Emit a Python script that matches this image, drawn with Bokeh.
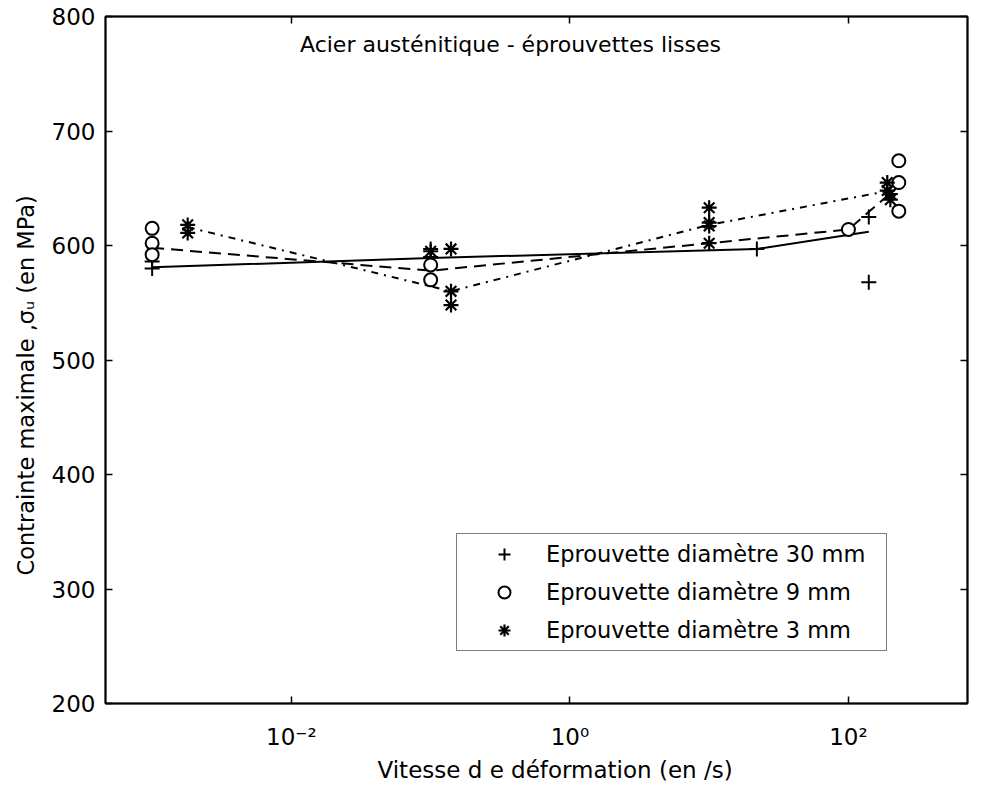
from bokeh.plotting import figure
from bokeh.models import (Range1d, FixedTicker, LogAxis, LinearAxis, Legend, LegendItem,
                          Label, Title, CustomJSTickFormatter)
from bokeh.embed import file_html
from bokeh.resources import INLINE

# ---------------- data ----------------
# Eprouvette diamètre 30 mm  (+)
d30_rate = [1e-3, 1e-3, 0.1, 0.1, 22, 140, 140]
d30_stress = [580, 586, 590, 597, 597, 625, 568]
d30_curve_rate = [1e-3, 0.1, 22, 140]
d30_curve_stress = [581, 589, 597, 612]

# Eprouvette diamètre 9 mm  (o)
d9_rate = [1e-3, 1e-3, 1e-3, 0.1, 0.1, 100, 230, 230, 230]
d9_stress = [615, 602, 592, 583, 570, 614, 674, 655, 630]
d9_curve_rate = [1e-3, 0.1, 100, 230]
d9_curve_stress = [598, 578, 614, 652]

# Eprouvette diamètre 3 mm  (*)
d3_rate = [1.8e-3, 1.8e-3, 0.1, 0.14, 0.14, 0.14, 10, 10, 10, 10, 190, 190, 200, 200]
d3_stress = [618, 611, 595, 597, 560, 548, 633, 620, 617, 602, 655, 648, 645, 640]
d3_curve_rate = [1.8e-3, 0.14, 10, 200]
d3_curve_stress = [616, 560, 618, 648]

x_ticks = [0.01, 1, 100]
x_tick_labels = ["10⁻²", "10⁰", "10²"]
y_ticks = [200, 300, 400, 500, 600, 700, 800]

series_labels = ["Eprouvette diamètre 30 mm", "Eprouvette diamètre 9 mm",
                 "Eprouvette diamètre 3 mm"]
title_text = "Acier austénitique - éprouvettes lisses"
x_label = "Vitesse d e déformation (en /s)"
y_label = "Contrainte maximale ,σᵤ  (en MPa)"

FONT = "DejaVu Sans"

# ---------------- figure ----------------
p = figure(width=972, height=784, x_axis_type="log",
           x_range=Range1d(10 ** -3.335, 10 ** 2.855), y_range=Range1d(200, 800),
           output_backend="svg", toolbar_location=None,
           min_border_left=102, min_border_right=5, min_border_top=16, min_border_bottom=80)
p.background_fill_color = "white"
p.border_fill_color = "white"
p.outline_line_color = "black"
p.outline_line_width = 1.5
p.grid.visible = False

xa = p.xaxis[0]
xa.ticker = FixedTicker(ticks=x_ticks, minor_ticks=[])
xa.major_label_overrides = dict(zip(x_ticks, x_tick_labels))

ya = p.yaxis[0]
ya.ticker = FixedTicker(ticks=y_ticks, minor_ticks=[])

for ax in (xa, ya):
    ax.axis_line_color = "black"
    ax.axis_line_width = 2
    ax.major_tick_in = 7
    ax.major_tick_out = 0
    ax.major_tick_line_width = 1.5
    ax.minor_tick_in = 0
    ax.minor_tick_out = 0
    ax.major_label_text_font = FONT
    ax.major_label_text_font_size = "23px"
    ax.major_label_text_color = "black"

xa.major_label_standoff = 20
ya.major_label_standoff = 10

empty = CustomJSTickFormatter(code="return ''")
top = LogAxis(ticker=FixedTicker(ticks=x_ticks, minor_ticks=[]), formatter=empty,
              major_tick_in=7, major_tick_out=0, minor_tick_in=0, minor_tick_out=0,
              major_label_standoff=0, axis_line_width=2, major_tick_line_width=1.5)
right = LinearAxis(ticker=FixedTicker(ticks=y_ticks, minor_ticks=[]), formatter=empty,
                   major_tick_in=7, major_tick_out=0, minor_tick_in=0, minor_tick_out=0,
                   major_label_standoff=0, axis_line_width=2, major_tick_line_width=1.5)
p.add_layout(top, "above")
p.add_layout(right, "right")

# axis titles as side-panel titles, offset like in the reference
p.add_layout(Title(text=x_label, align="left", offset=272, standoff=4,
                   text_font=FONT, text_font_size="23px", text_font_style="normal",
                   text_color="black"), "below")
p.add_layout(Title(text=y_label, align="left", offset=128, standoff=20,
                   text_font=FONT, text_font_size="22.5px", text_font_style="normal",
                   text_color="black"), "left")

# ---------------- curves ----------------
p.line(d30_curve_rate, d30_curve_stress, line_color="black", line_width=2)
p.line(d9_curve_rate, d9_curve_stress, line_color="black", line_width=2, line_dash="12 7")
p.line(d3_curve_rate, d3_curve_stress, line_color="black", line_width=2, line_dash="7 6 2 6")

# ---------------- markers ----------------
r30 = p.scatter(d30_rate, d30_stress, marker="cross", size=15, line_color="black", line_width=2)
r9 = p.scatter(d9_rate, d9_stress, marker="circle", size=13, line_color="black",
               fill_color="white", line_width=2)
r3 = p.scatter(d3_rate, d3_stress, marker="asterisk", size=15, line_color="black", line_width=2.2)

legend = Legend(items=[LegendItem(label=series_labels[0], renderers=[r30]),
                       LegendItem(label=series_labels[1], renderers=[r9]),
                       LegendItem(label=series_labels[2], renderers=[r3])],
                location=(351, 52), orientation="vertical",
                border_line_color="black", border_line_width=1.5,
                background_fill_color="white", background_fill_alpha=1,
                label_text_font=FONT, label_text_font_size="22.5px", label_text_color="black",
                glyph_width=84, glyph_height=30, label_height=30, label_width=335,
                label_standoff=0, spacing=8, padding=5, margin=0)
p.add_layout(legend)

# title inside the axes
p.add_layout(Label(x=405, y=659, x_units="screen", y_units="screen", text=title_text,
                   text_align="center", text_baseline="middle",
                   text_font=FONT, text_font_size="22px", text_color="black"))

open("out.html", "w").write(file_html(p, INLINE))
